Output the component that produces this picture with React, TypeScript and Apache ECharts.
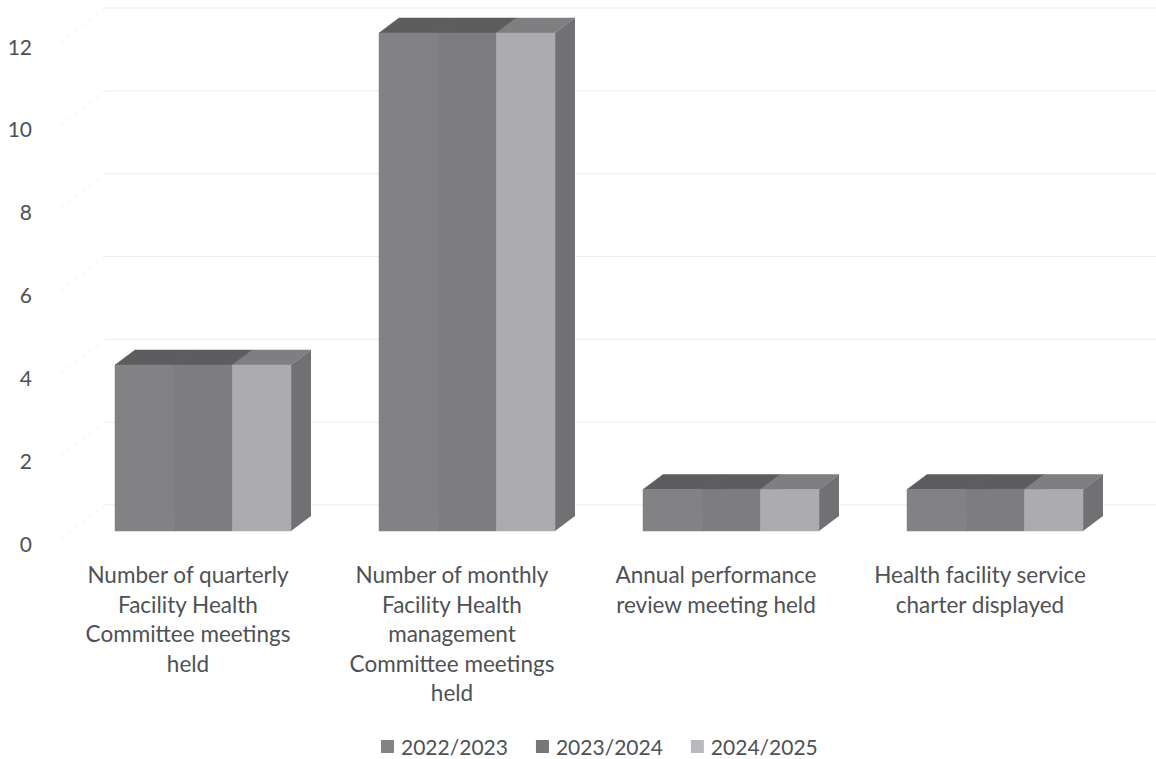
import React, { useEffect, useRef } from "react";
import * as echarts from "echarts";

const categories = [
  "Number of quarterly\nFacility Health\nCommittee meetings\nheld",
  "Number of monthly\nFacility Health\nmanagement\nCommittee meetings\nheld",
  "Annual performance\nreview meeting held",
  "Health facility service\ncharter displayed",
];
const seriesNames = ["2022/2023", "2023/2024", "2024/2025"];
const values2022 = [4, 12, 1, 1];
const values2023 = [4, 12, 1, 1];
const values2024 = [4, 12, 1, 1];
const wallTicks = [0, 2, 4, 6, 8, 10, 12];

const FONT = "Lato, 'Open Sans', sans-serif";
const TEXT = "#4f5154";
const DEPTH_X = 20;
const DEPTH_Y = -15;
const BAR_SHARE = 1 / 1.5;

const palette = [
  { front: "#828284", top: "#5d5d5f", side: "#6e6e70", legend: "#848486" },
  { front: "#7d7d7f", top: "#5d5d5f", side: "#6e6e70", legend: "#77777a" },
  { front: "#acacaf", top: "#7f7f81", side: "#717173", legend: "#b9b9bd" },
];

// One slab of the 3D cluster: front face plus the top and right faces behind it.
function boxRenderer(slot: number) {
  const colors = palette[slot];
  return (_params: any, api: any) => {
    const index = api.value(0);
    const base = api.coord([index, 0]);
    const head = api.coord([index, api.value(1)]);
    const slab = (api.size([1, 0])[0] * BAR_SHARE) / seriesNames.length;
    const x0 = base[0] + (slot - seriesNames.length / 2) * slab;
    const x1 = x0 + slab;
    const yTop = head[1];
    const yBase = base[1];
    return {
      type: "group",
      children: [
        {
          type: "polygon",
          shape: {
            points: [
              [x1, yTop],
              [x1 + DEPTH_X, yTop + DEPTH_Y],
              [x1 + DEPTH_X, yBase + DEPTH_Y],
              [x1, yBase],
            ],
          },
          style: { fill: colors.side },
        },
        {
          type: "polygon",
          shape: {
            points: [
              [x0, yTop],
              [x0 + DEPTH_X, yTop + DEPTH_Y],
              [x1 + DEPTH_X, yTop + DEPTH_Y],
              [x1, yTop],
            ],
          },
          style: { fill: colors.top, stroke: colors.top, lineWidth: 0.5 },
        },
        {
          type: "rect",
          shape: { x: x0, y: yTop, width: slab, height: yBase - yTop },
          style: { fill: colors.front, stroke: colors.front, lineWidth: 0.5 },
        },
      ],
    };
  };
}

// Gridline of the chart's back wall, folded along the left side wall.
function wallRenderer(params: any, api: any) {
  const p = api.coord([0, api.value(0)]);
  const left = params.coordSys.x;
  const right = 1156;
  return {
    type: "group",
    children: [
      {
        type: "line",
        shape: { x1: left + 4, y1: p[1] - 3, x2: left + 49, y2: p[1] - 38 },
        style: { stroke: "#f1f1f5", lineWidth: 1, lineDash: [5, 4] },
      },
      {
        type: "line",
        shape: { x1: left + 49, y1: p[1] - 38, x2: right, y2: p[1] - 38 },
        style: { stroke: "#ebebf1", lineWidth: 1 },
      },
    ],
  };
}

export default function App() {
  const ref = useRef<HTMLDivElement>(null);

  useEffect(() => {
    document.body.style.margin = "0";
    const chart = echarts.init(ref.current!, undefined, { renderer: "svg" });
    const sets = [values2022, values2023, values2024];
    chart.setOption({
      animation: false,
      backgroundColor: "#ffffff",
      textStyle: { fontFamily: FONT },
      grid: [
        { left: 56, width: 1056, top: 46, height: 497 },
        { left: 71, width: 1056, top: 33, height: 498 },
      ],
      xAxis: [
        {
          gridIndex: 0,
          type: "category",
          data: categories,
          axisLine: { show: false },
          axisTick: { show: false },
          axisLabel: {
            interval: 0,
            color: TEXT,
            fontFamily: FONT,
            fontSize: 22.5,
            lineHeight: 29.5,
            margin: 17,
          },
        },
        {
          gridIndex: 1,
          type: "category",
          data: categories,
          axisLine: { show: false },
          axisTick: { show: false },
          axisLabel: { show: false },
        },
      ],
      yAxis: [
        {
          gridIndex: 0,
          type: "value",
          min: 0,
          max: 12,
          interval: 2,
          axisLine: { show: false },
          axisTick: { show: false },
          splitLine: { show: false },
          axisLabel: { color: TEXT, fontFamily: FONT, fontSize: 21, margin: 24 },
        },
        {
          gridIndex: 1,
          type: "value",
          min: 0,
          max: 12,
          interval: 2,
          axisLine: { show: false },
          axisTick: { show: false },
          splitLine: { show: false },
          axisLabel: { show: false },
        },
      ],
      legend: {
        data: seriesNames,
        left: 381,
        top: 736,
        padding: 0,
        icon: "rect",
        itemWidth: 13,
        itemHeight: 13,
        itemGap: 28,
        textStyle: { color: TEXT, fontFamily: FONT, fontSize: 21, padding: [0, 0, 0, 2] },
      },
      series: [
        {
          type: "custom",
          name: "wall",
          xAxisIndex: 0,
          yAxisIndex: 0,
          clip: false,
          silent: true,
          z: 1,
          encode: { y: 0 },
          data: wallTicks.map((t) => [t]),
          renderItem: wallRenderer,
        },
        ...seriesNames.map((name, slot) => ({
          type: "custom",
          name,
          xAxisIndex: 1,
          yAxisIndex: 1,
          clip: false,
          z: 2 + slot,
          itemStyle: { color: palette[slot].legend },
          encode: { x: 0, y: 1 },
          data: sets[slot].map((v, i) => [i, v]),
          renderItem: boxRenderer(slot),
        })),
      ],
    });
    return () => chart.dispose();
  }, []);

  return <div ref={ref} style={{ width: 1156, height: 759 }} />;
}
